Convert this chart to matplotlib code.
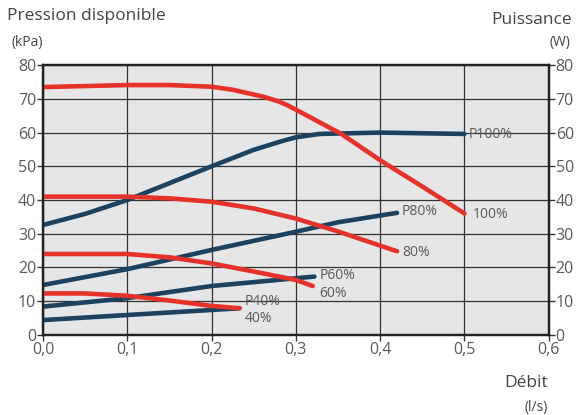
import numpy as np
import matplotlib.pyplot as plt

plt.rcParams['font.family'] = ['Open Sans', 'DejaVu Sans']

# pressure curves (red), kPa
x100 = [0.0, 0.05, 0.1, 0.15, 0.2, 0.225, 0.25, 0.265, 0.28, 0.29, 0.3, 0.354, 0.4, 0.45, 0.5]
y100 = [73.5, 73.8, 74.1, 74.1, 73.6, 72.7, 71.3, 70.4, 69.2, 68.1, 66.8, 59.6, 51.8, 44.0, 36.0]
x80 = [0.0, 0.1, 0.15, 0.2, 0.25, 0.3, 0.351, 0.42]
y80 = [41.0, 41.0, 40.5, 39.5, 37.5, 34.5, 30.6, 24.8]
x60 = [0.0, 0.1, 0.15, 0.2, 0.25, 0.3, 0.32]
y60 = [24.0, 24.0, 23.0, 21.2, 18.8, 16.3, 14.5]
x40 = [0.0, 0.05, 0.1, 0.15, 0.2, 0.233]
y40 = [12.3, 12.3, 11.6, 10.2, 8.6, 7.9]

# power curves (blue), W
xp100 = [0.0, 0.05, 0.1, 0.152, 0.2, 0.249, 0.281, 0.3, 0.328, 0.4, 0.45, 0.5]
yp100 = [32.6, 35.9, 40.0, 45.2, 50.0, 54.8, 57.3, 58.6, 59.6, 60.0, 59.8, 59.6]
xp80 = [0.0, 0.1, 0.2, 0.3, 0.35, 0.42]
yp80 = [14.8, 19.5, 25.2, 30.6, 33.4, 36.2]
xp60 = [0.0, 0.1, 0.2, 0.3, 0.322]
yp60 = [8.4, 10.9, 14.5, 16.8, 17.3]
xp40 = [0.0, 0.1, 0.2, 0.233]
yp40 = [4.4, 5.9, 7.4, 7.9]

red = '#e5322a'
blue = '#1d4260'
grey = '#5a5a5a'

fig = plt.figure(figsize=(5.76, 4.15), dpi=100)
ax = fig.add_axes([0.0747, 0.193, 0.878, 0.65])
ax.set_facecolor('#e6e6e6')

for xs, ys in [(xp100, yp100), (xp80, yp80), (xp60, yp60), (xp40, yp40)]:
    ax.plot(xs, ys, color=blue, lw=3.3, solid_capstyle='round',
            solid_joinstyle='round', zorder=3)
for xs, ys in [(x100, y100), (x80, y80), (x60, y60), (x40, y40)]:
    ax.plot(xs, ys, color=red, lw=3.3, solid_capstyle='round',
            solid_joinstyle='round', zorder=4)

ax.set_xlim(0, 0.6)
ax.set_ylim(0, 80)
ax.set_xticks(np.arange(0, 0.61, 0.1))
ax.set_xticklabels(['0,0', '0,1', '0,2', '0,3', '0,4', '0,5', '0,6'])
ax.set_yticks(np.arange(0, 81, 10))
ax.grid(True, color='#333333', lw=0.9)
ax.set_axisbelow(True)
for s in ax.spines.values():
    s.set_color('#222222')
    s.set_linewidth(1.6)
ax.tick_params(colors=grey, labelsize=11.5, length=4, width=1, pad=1, color='#333333')

ax2 = ax.twinx()
ax2.set_ylim(0, 80)
ax2.set_yticks(np.arange(0, 81, 10))
ax2.tick_params(colors=grey, labelsize=11.5, length=4, width=1, pad=1, color='#333333')
for s in ax2.spines.values():
    s.set_color('#222222')
    s.set_linewidth(1.6)

lbl = dict(color=grey, fontsize=10, va='center', ha='left', zorder=5)
ax.text(0.505, 59.3, 'P100%', **lbl)
ax.text(0.51, 35.8, '100%', **lbl)
ax.text(0.426, 36.6, 'P80%', **lbl)
ax.text(0.426, 24.3, '80%', **lbl)
ax.text(0.328, 17.6, 'P60%', **lbl)
ax.text(0.328, 12.4, '60%', **lbl)
ax.text(0.239, 9.8, 'P40%', **lbl)
ax.text(0.239, 5.0, '40%', **lbl)

fig.text(0.012, 0.962, 'Pression disponible', color='#444444', fontsize=12.5, va='center')
fig.text(0.02, 0.898, '(kPa)', color='#444444', fontsize=10, va='center')
fig.text(0.993, 0.952, 'Puissance', color='#444444', fontsize=12.5, va='center', ha='right')
fig.text(0.99, 0.898, '(W)', color='#444444', fontsize=10, va='center', ha='right')
fig.text(0.952, 0.077, 'Débit', color='#444444', fontsize=12.5, va='center', ha='right')
fig.text(0.952, 0.018, '(l/s)', color='#444444', fontsize=10, va='center', ha='right')

fig.savefig('out.png', dpi=100)
